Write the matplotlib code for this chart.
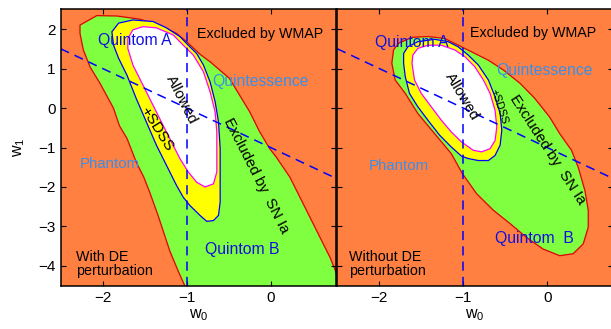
import matplotlib
matplotlib.use('Agg')
import matplotlib.pyplot as plt

plt.rcParams['font.family'] = ['Liberation Sans', 'DejaVu Sans']
plt.rcParams['mathtext.fontset'] = 'custom'
plt.rcParams['mathtext.rm'] = 'Liberation Sans'
plt.rcParams['mathtext.it'] = 'Liberation Sans:italic'

ORANGE = '#FF8040'
GREEN = '#80FF40'
YELLOW = '#FFFF00'

# --- contours, with DE perturbation (left panel) ---
sn_w0_pert = [-2.27, -2.07, -1.83, -1.56, -1.32, -1.12, -1.00, -0.84, -0.72, -0.49, -0.37,
              -0.25, -0.13, -0.01, 0.07, 0.23, 0.35, 0.47, 0.59, 0.71, 0.79, 0.95, 0.95,
              -1.04, -1.02, -1.10, -1.20, -1.34, -1.44, -1.51, -1.60, -1.71, -1.80, -1.87,
              -1.92, -2.03, -2.15, -2.23, -2.27]
sn_w1_pert = [2.10, 2.34, 2.33, 2.25, 2.10, 1.89, 1.68, 1.36, 1.17, 0.75, 0.33,
              -0.09, -0.60, -1.03, -1.25, -1.75, -2.26, -2.77, -3.28, -3.79, -4.21, -4.70, -4.70,
              -4.70, -4.51, -4.13, -3.62, -2.72, -2.13, -1.75, -1.37, -0.77, -0.45, -0.01,
              0.19, 0.62, 1.04, 1.47, 1.89]

sdss_w0_pert = [-1.89, -1.81, -1.64, -1.40, -1.24, -1.08, -0.98, -0.88, -0.80, -0.72, -0.66,
                -0.62, -0.60, -0.60, -0.60, -0.62, -0.68, -0.76, -0.84, -0.96, -1.04, -1.12,
                -1.24, -1.36, -1.48, -1.60, -1.71, -1.81, -1.87]
sdss_w1_pert = [1.93, 2.15, 2.23, 2.19, 2.03, 1.81, 1.59, 1.38, 1.09, 0.66, 0.16,
                -0.35, -1.03, -1.71, -2.38, -2.72, -2.85, -2.87, -2.72, -2.47, -2.26, -1.96,
                -1.45, -0.94, -0.35, 0.24, 0.83, 1.26, 1.59]

ok_w0_pert = [-1.70, -1.64, -1.52, -1.36, -1.16, -1.04, -0.92, -0.80, -0.72, -0.66, -0.64,
              -0.64, -0.64, -0.68, -0.78, -0.88, -0.98, -1.08, -1.18, -1.28, -1.40, -1.52,
              -1.64, -1.70]
ok_w1_pert = [1.76, 1.98, 2.06, 2.03, 1.85, 1.59, 1.34, 0.92, 0.41, -0.10, -0.61,
              -1.20, -1.62, -1.92, -2.00, -1.88, -1.62, -1.28, -0.86, -0.44, 0.07, 0.58,
              1.09, 1.51]

# --- contours, without DE perturbation (right panel) ---
sn_w0_nopert = [-1.85, -1.83, -1.77, -1.61, -1.42, -1.22, -1.02, -0.86, -0.70, -0.52, -0.32,
                -0.15, 0.03, 0.15, 0.29, 0.37, 0.45, 0.49, 0.49, 0.43, 0.31, 0.15, -0.05,
                -0.25, -0.44, -0.64, -0.84, -1.01, -1.14, -1.34, -1.54, -1.69, -1.81]
sn_w1_nopert = [1.13, 1.47, 1.64, 1.79, 1.81, 1.76, 1.55, 1.38, 1.21, 0.96, 0.62,
                0.25, -0.23, -0.65, -1.07, -1.50, -2.09, -2.59, -3.02, -3.44, -3.69, -3.74, -3.57,
                -3.27, -2.93, -2.59, -2.17, -1.66, -1.16, -0.65, -0.14, 0.37, 0.71]

sdss_w0_nopert = [-1.71, -1.66, -1.54, -1.34, -1.18, -1.06, -0.94, -0.82, -0.70, -0.62, -0.56,
                  -0.54, -0.56, -0.62, -0.70, -0.82, -0.94, -1.02, -1.14, -1.28, -1.42, -1.54,
                  -1.64, -1.69, -1.71]
sdss_w1_nopert = [1.38, 1.55, 1.68, 1.74, 1.68, 1.55, 1.34, 1.09, 0.71, 0.28, -0.14,
                  -0.56, -0.94, -1.20, -1.33, -1.33, -1.28, -1.22, -0.99, -0.69, -0.31, 0.03,
                  0.37, 0.79, 1.13]

ok_w0_nopert = [-1.61, -1.60, -1.54, -1.42, -1.26, -1.10, -0.98, -0.86, -0.76, -0.68, -0.62,
                -0.60, -0.62, -0.68, -0.78, -0.88, -1.02, -1.14, -1.26, -1.38, -1.50, -1.58]
ok_w1_nopert = [1.13, 1.34, 1.51, 1.59, 1.59, 1.47, 1.30, 1.04, 0.71, 0.37, -0.06,
                -0.48, -0.82, -1.03, -1.11, -1.07, -0.86, -0.61, -0.31, 0.03, 0.37, 0.71]

XTICKS = [-2, -1, 0]
YTICKS = [-4, -3, -2, -1, 0, 1, 2]

W = 6.11
H = 3.29
fig = plt.figure(figsize=(W, H), dpi=100)
ax1 = fig.add_axes([60.7 / 611, 43.3 / 329, 275.3 / 611, 276.4 / 329])
ax2 = fig.add_axes([337.3 / 611, 43.3 / 329, 275.3 / 611, 276.4 / 329])


def panel(ax, sn, sdss, ok, labels):
    ax.set_facecolor(ORANGE)
    ax.fill(sn[0], sn[1], facecolor=GREEN, edgecolor='#E00000', lw=0.9, zorder=1)
    ax.fill(sdss[0], sdss[1], facecolor=YELLOW, edgecolor='#0000FF', lw=0.9, zorder=2)
    ax.fill(ok[0], ok[1], facecolor='white', edgecolor='#FF00FF', lw=0.9, zorder=3)
    # w0 = -1 and w0 + w1 = -1
    ax.axvline(-1, color='#0000FF', lw=1.1, ls=(0, (6, 4)), zorder=4)
    ax.plot([-2.5, 0.78], [-1 + 2.5, -1 - 0.78], color='#0000FF', lw=1.1, ls=(0, (6, 4)), zorder=4)
    for txt, x, y, kw in labels:
        ax.text(x, y, txt, zorder=5, **kw)
    ax.set_xlim(-2.5, 0.78)
    ax.set_ylim(-4.5, 2.5)
    ax.set_xticks(XTICKS)
    ax.set_yticks(YTICKS)
    ax.tick_params(direction='in', top=True, right=True, length=3.5, width=0.8, labelsize=11)
    for s in ax.spines.values():
        s.set_linewidth(1.1)
        s.set_zorder(6)
    ax.set_xlabel('w$_0$', fontsize=11.5, labelpad=2)


blueA = dict(color='#1010E0', fontsize=11.3, ha='left', va='center')
lblue = dict(color='#3A8FE8', fontsize=11.3, ha='left', va='center')
blk = dict(color='black', fontsize=10.3, ha='left', va='center')

panel(ax1, (sn_w0_pert, sn_w1_pert), (sdss_w0_pert, sdss_w1_pert), (ok_w0_pert, ok_w1_pert), [
    ('Excluded by WMAP', -0.88, 1.88, blk),
    ('Quintom A', -2.06, 1.70, blueA),
    ('Quintessence', -0.69, 0.68, lblue),
    ('Phantom', -2.27, -1.43, dict(lblue, fontsize=10.8)),
    ('Quintom B', -0.78, -3.58, blueA),
    ('With DE\nperturbation', -2.32, -3.94, dict(blk, linespacing=1.0)),
    ('Allowed', -1.06, 0.20, dict(color='black', fontsize=10.8, ha='center', va='center', rotation=-63, rotation_mode='anchor')),
    ('+SDSS', -1.36, -0.52, dict(color='black', fontsize=10.8, ha='center', va='center', rotation=-58, rotation_mode='anchor')),
    ('Excluded by  SN Ia', -0.17, -1.71, dict(color='black', fontsize=10.8, ha='center', va='center', rotation=-63, rotation_mode='anchor')),
])
ax1.set_ylabel('w$_1$', fontsize=11.5, labelpad=8)

panel(ax2, (sn_w0_nopert, sn_w1_nopert), (sdss_w0_nopert, sdss_w1_nopert), (ok_w0_nopert, ok_w1_nopert), [
    ('Excluded by WMAP', -0.92, 1.89, blk),
    ('Quintom A', -2.05, 1.67, blueA),
    ('Quintessence', -0.61, 0.96, lblue),
    ('Phantom', -2.12, -1.47, dict(lblue, fontsize=10.8)),
    ('Quintom  B', -0.62, -3.31, blueA),
    ('Without DE\nperturbation', -2.36, -3.96, dict(blk, linespacing=1.0)),
    ('Allowed', -1.02, 0.28, dict(color='black', fontsize=10.8, ha='center', va='center', rotation=-59, rotation_mode='anchor')),
    ('+SDSS', -0.58, 0.03, dict(color='black', fontsize=8, ha='center', va='center', rotation=-72, rotation_mode='anchor')),
    ('Excluded by  SN Ia', 0.01, -1.05, dict(color='black', fontsize=10.8, ha='center', va='center', rotation=-57, rotation_mode='anchor')),
])
ax2.set_yticklabels([])

fig.savefig('out.png', dpi=100)
